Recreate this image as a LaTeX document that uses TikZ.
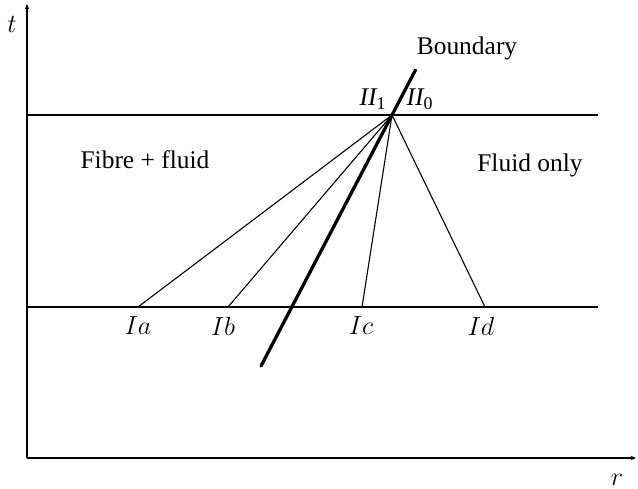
\documentclass[tikz,border=0pt]{standalone}
\usepackage{fontspec}
\setmainfont{Liberation Serif}
\usepackage{amsmath}
\usetikzlibrary{arrows.meta}

\begin{document}
\begin{tikzpicture}[x=0.55pt, y=-0.55pt,
        every node/.style={font=\fontsize{14}{16}\selectfont},
        axis/.style={line width=0.9pt, -{Stealth[length=3pt, width=2.5pt]}},
        level/.style={line width=0.6pt},
        ray/.style={line width=0.6pt},
        bound/.style={line width=1.8pt, line cap=round}]
      \useasboundingbox (0,0) rectangle (638,488);
      % axes
      \coordinate (O) at (27,458);
      \coordinate (TT) at (27,4);
      \coordinate (RR) at (636,458);
      \draw[axis] (O) -- (TT);
      \draw[axis] (O) -- (RR);
      \node (t) at (12,24) {$t$};
      \node (r) at (617,480) {$r$};
      % levels
      \coordinate (L1) at (27,115);
      \coordinate (R1) at (598,115);
      \coordinate (L2) at (27,307);
      \coordinate (R2) at (598,307);
      \draw[level] (L1) -- (R1);
      \draw[level] (L2) -- (R2);
      % rays
      \coordinate (P) at (392,115);
      \coordinate (Ia) at (138,307);
      \coordinate (Ib) at (228,307);
      \coordinate (Ic) at (362,307);
      \coordinate (Id) at (485,307);
      \foreach \p in {Ia,Ib,Ic,Id}
        \draw[ray] (\p) -- (P);
      \node (la) at (138,326) {$I a$};
      \node (lb) at (223,326) {$I b$};
      \node (lc) at (361,326) {$I c$};
      \node (ld) at (481,326) {$I d$};
      % boundary
      \coordinate (B0) at (261,366);
      \coordinate (B1) at (415.5,70);
      \draw[bound] (B0) -- (B1);
      \node (bnd) at (467,48) {Boundary};
      \node (II1) at (373,99) {$\mathit{II}_{\mathrm{1}}$};
      \node (II0) at (420,99) {$\mathit{II}_{\mathrm{0}}$};
      \node (fib) at (145,160) {Fibre + fluid};
      \node (flu) at (530,165) {Fluid only};
    \end{tikzpicture}
\end{document}
